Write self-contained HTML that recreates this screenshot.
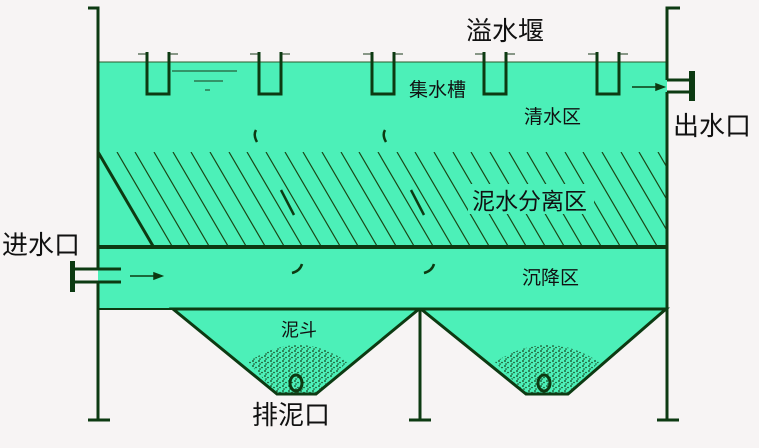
<!DOCTYPE html>
<html><head><meta charset="utf-8"><style>
body{margin:0;background:#f7f4f4;}
svg{display:block}
text{font-family:"Liberation Sans","Noto Sans CJK SC",sans-serif;fill:#111}
</style></head><body>
<svg width="759" height="448" viewBox="0 0 759 448">
<defs>
<clipPath id="hc"><polygon points="98,152 667,152 667,246 152,246"/></clipPath>
<pattern id="dots" width="6" height="5" patternUnits="userSpaceOnUse">
<circle cx="1" cy="1" r="0.9" fill="#16401a"/><circle cx="4" cy="2.5" r="0.8" fill="#16401a"/><circle cx="2" cy="4" r="0.8" fill="#16401a"/>
</pattern>
</defs>
<rect x="98" y="62" width="569" height="247" fill="#4cf0b8"/>
<polygon points="173,309 419,309 316,394 277,394" fill="#4cf0b8" stroke="#0d3a12" stroke-width="3"/>
<polygon points="421,309 666,309 568,394 526,394" fill="#4cf0b8" stroke="#0d3a12" stroke-width="3"/>
<path d="M248,362 Q300,328 347,362 L316,394 277,394 Z" fill="url(#dots)"/>
<path d="M495,362 Q548,328 599,362 L568,394 526,394 Z" fill="url(#dots)"/>
<ellipse cx="296" cy="383" rx="6" ry="8" fill="none" stroke="#0d3a12" stroke-width="3"/>
<ellipse cx="544" cy="383" rx="6" ry="8" fill="none" stroke="#0d3a12" stroke-width="3"/>
<line x1="98" y1="62" x2="667" y2="62" stroke="#2a5a2a" stroke-width="1"/>
<g clip-path="url(#hc)" stroke="#1a4516" stroke-width="1.2">
<line x1="98" y1="152" x2="153" y2="246"/><line x1="117" y1="152" x2="172" y2="246"/><line x1="135" y1="152" x2="190" y2="246"/><line x1="154" y1="152" x2="209" y2="246"/><line x1="173" y1="152" x2="228" y2="246"/><line x1="191" y1="152" x2="246" y2="246"/><line x1="210" y1="152" x2="265" y2="246"/><line x1="229" y1="152" x2="284" y2="246"/><line x1="247" y1="152" x2="302" y2="246"/><line x1="266" y1="152" x2="321" y2="246"/><line x1="285" y1="152" x2="340" y2="246"/><line x1="303" y1="152" x2="358" y2="246"/><line x1="322" y1="152" x2="377" y2="246"/><line x1="341" y1="152" x2="396" y2="246"/><line x1="359" y1="152" x2="414" y2="246"/><line x1="378" y1="152" x2="433" y2="246"/><line x1="397" y1="152" x2="452" y2="246"/><line x1="415" y1="152" x2="470" y2="246"/><line x1="434" y1="152" x2="489" y2="246"/><line x1="453" y1="152" x2="508" y2="246"/><line x1="471" y1="152" x2="526" y2="246"/><line x1="490" y1="152" x2="545" y2="246"/><line x1="509" y1="152" x2="564" y2="246"/><line x1="527" y1="152" x2="582" y2="246"/><line x1="546" y1="152" x2="601" y2="246"/><line x1="565" y1="152" x2="620" y2="246"/><line x1="583" y1="152" x2="638" y2="246"/><line x1="602" y1="152" x2="657" y2="246"/><line x1="621" y1="152" x2="676" y2="246"/><line x1="639" y1="152" x2="694" y2="246"/><line x1="658" y1="152" x2="713" y2="246"/>
</g>
<rect x="468" y="184" width="126" height="30" fill="#4cf0b8"/>
<line x1="98" y1="152" x2="153" y2="246" stroke="#0d3a12" stroke-width="3"/>
<line x1="98" y1="247" x2="667" y2="247" stroke="#0d3a12" stroke-width="4"/>
<line x1="98" y1="309" x2="173" y2="309" stroke="#0d3a12" stroke-width="2"/>
<g stroke="#0d3a12" stroke-width="3" fill="none">
<polyline points="88,8 98,8 98,269"/>
<polyline points="98,282 98,420"/>
<line x1="88" y1="420" x2="110" y2="420"/>
<polyline points="680,8 667,8 667,80"/>
<polyline points="667,92 667,420"/>
<line x1="657" y1="420" x2="679" y2="420"/>
<line x1="420" y1="309" x2="420" y2="420"/>
<line x1="409" y1="420" x2="431" y2="420"/>
<line x1="74" y1="269" x2="121" y2="269"/><line x1="74" y1="282" x2="121" y2="282"/>
<line x1="667" y1="80" x2="690" y2="80"/><line x1="667" y1="92" x2="690" y2="92"/>
</g>
<rect x="70" y="261" width="5" height="31" fill="#0d3a12"/>
<rect x="689" y="71" width="6" height="30" fill="#0d3a12"/>
<g stroke="#0d3a12" stroke-width="1.5" fill="#0d3a12">
<line x1="130" y1="276" x2="156" y2="276"/><polygon points="162,276 154,273 154,279"/>
<line x1="632" y1="87" x2="658" y2="87"/><polygon points="664,87 656,84 656,90"/>
</g>
<g stroke="#0d3a12" stroke-width="3" fill="none">
<polyline points="147,52 147,94 169,94 169,52"/>
<polyline points="259,52 259,94 281,94 281,52"/>
<polyline points="372,52 372,94 394,94 394,52"/>
<polyline points="484,52 484,94 506,94 506,52"/>
<polyline points="597,52 597,94 619,94 619,52"/>
</g>
<g stroke="#1a3a1a" stroke-width="1">
<path d="M138,54h8M170,54h8M250,54h8M282,54h8M363,54h8M395,54h8M475,54h8M507,54h8M588,54h8M620,54h8"/>
<line x1="172" y1="71" x2="237" y2="71"/><line x1="194" y1="81" x2="223" y2="81"/><line x1="205" y1="90" x2="210" y2="90"/>
</g>
<g stroke="#0d3a12" stroke-width="2.5" fill="none">
<path d="M256,130 q-3,5 1,12"/><path d="M385,130 q-3,5 1,12"/>
<line x1="281" y1="190" x2="294" y2="215"/><line x1="411" y1="190" x2="424" y2="215"/>
<path d="M292,273 q8,-2 10,-9"/><path d="M424,273 q8,-2 10,-9"/>
</g>
<text x="505" y="40" font-size="26" text-anchor="middle">溢水堰</text>
<text x="409" y="96" font-size="19">集水槽</text>
<text x="524" y="123" font-size="19">清水区</text>
<text x="673" y="135" font-size="26">出水口</text>
<text x="472" y="209" font-size="23">泥水分离区</text>
<text x="522" y="284" font-size="19">沉降区</text>
<text x="281" y="336" font-size="18">泥斗</text>
<text x="252" y="424" font-size="26">排泥口</text>
<text x="2" y="254" font-size="26">进水口</text>
</svg>
</body></html>
